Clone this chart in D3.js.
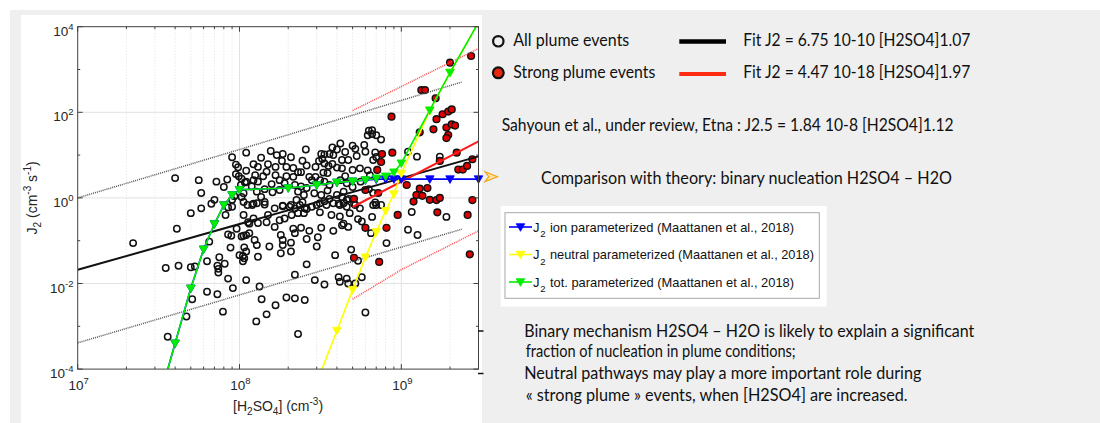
<!DOCTYPE html>
<html>
<head>
<meta charset="utf-8">
<script src="https://cdn.jsdelivr.net/npm/d3@7"></script>
<style>
  body { margin: 0; background: #fff; }
  svg { display: block; }
</style>
</head>
<body>
<svg id="chart" width="1100" height="423"></svg>
<script>
// ---------- data ----------
// [H2SO4] (cm-3), J2 (cm-3 s-1) for every plume event
const plumeEvents = [
  [2.2e7,0.088],[4.0e7,2.9],[5.6e7,2.6],[5.8e7,1.3],[7.2e7,2.4],[8.0e7,1.8],[8.4e7,2.7],[9.0e7,8.9],
  [9.5e7,6.0],[9.8e7,5.2],[9.5e7,3.6],[9.9e7,3.2],[1.1e8,11.4],[1.1e8,4.3],[7.0e7,0.9],[6.7e7,0.73],
  [5.8e7,0.57],[9.0e7,0.62],[1.03e8,1.05],[1.12e8,0.68],[5.0e7,0.44],[4.1e7,0.19],[6.5e7,0.095],[8.2e7,0.40],
  [8.5e7,0.14],[8.9e7,0.13],[9.6e7,0.19],[1.03e8,0.125],[1.1e8,0.135],[1.13e8,0.27],[8.8e7,0.069],[1.07e8,0.070],
  [1.1e8,0.056],[1.0e8,0.046],[1.05e8,0.044],[1.07e8,0.039],[6.3e7,0.033],[7.5e7,0.041],[8.1e7,0.029],[7.3e7,0.026],
  [7.4e7,0.022],[7.4e7,0.018],[5.0e7,0.024],[5.3e7,0.025],[4.2e7,0.026],[3.5e7,0.023],[8.5e7,0.013],[1.1e8,0.012],
  [9.1e7,0.0078],[6.3e7,0.0064],[7.3e7,0.0056],[5.1e7,0.0043],[4.7e7,0.0017],[7.9e7,0.0022],[3.6e7,5.7e-4],
  [1.02e8,2.0],[9.0e7,0.9],[9.3e7,1.1],[1.06e8,0.8],[8.5e7,0.6],[1.08e8,2.3],
  [1.56e8,12.5],[1.36e8,8.7],[1.7e8,10.0],[1.85e8,10.6],[1.83e8,7.3],[2.08e8,8.9],[2.57e8,13.5],[2.45e8,7.4],
  [3.1e8,7.3],[3.2e8,10.6],[3.35e8,10.4],[3.6e8,10.6],[3.8e8,10.0],[3.75e8,15],[4.2e8,18.6],[4.0e8,13.5],
  [3.25e8,8.1],[3.35e8,6.4],[3.55e8,5.6],[3.75e8,6.2],[4.0e8,5.1],[4.3e8,4.9],[4.5e8,3.2],[3.5e8,3.8],[3.3e8,3.9],
  [1.22e8,6.1],[1.3e8,5.3],[1.5e8,6.1],[1.67e8,5.3],[1.95e8,5.3],[2.15e8,5.0],[2.3e8,4.0],[2.6e8,5.7],[2.95e8,5.3],
  [1.25e8,3.4],[1.4e8,3.2],[1.47e8,4.1],[1.67e8,3.4],[1.95e8,3.2],[2.15e8,3.1],[2.4e8,4.0],[2.7e8,3.1],[2.95e8,3.1],
  [3.15e8,2.6],[3.35e8,2.4],[3.6e8,2.0],[4.2e8,2.6],
  [1.03e8,2.8],[1.1e8,2.4],[1.22e8,2.6],[1.3e8,2.4],[1.58e8,2.1],[1.77e8,2.6],[1.9e8,2.2],[2.2e8,2.0],[2.4e8,1.85],
  [2.6e8,1.7],[2.8e8,2.6],[1.06e8,1.28],[1.19e8,1.85],[1.28e8,1.4],[1.43e8,1.6],[1.6e8,1.35],[1.77e8,1.53],
  [2.3e8,1.4],[2.5e8,1.17],[2.9e8,1.28],[3.2e8,1.17],[3.5e8,1.48],[4.0e8,1.17],[4.4e8,1.4],
  [1.22e8,0.73],[1.36e8,1.05],[1.43e8,0.70],[1.85e8,0.66],[2.08e8,0.68],[2.25e8,0.89],[2.45e8,0.79],[3.0e8,0.68],
  [3.35e8,0.84],[3.6e8,0.95],[4.1e8,0.73],[4.6e8,0.89],
  [5.0e8,16.5],[5.2e8,14],[6.0e8,12],[6.9e8,11.5],[5.3e8,9.5],[7.0e8,9.0],[5.9e8,17.2],
  [6.3e8,37],[6.6e8,38],[6.2e8,29],[6.6e8,31],[7.0e8,29],[7.5e8,23],
  [4.5e8,11.8],[4.3e8,7.7],[4.7e8,7.7],[6.7e8,7.7],[5.0e8,4.5],[5.55e8,4.9],[6.2e8,4.4],[6.4e8,3.4],
  [1.1e9,12.0],[1.25e9,9.2],[1.73e9,9.2],
  [4.6e8,2.2],[5.0e8,1.8],[5.6e8,2.4],[6.3e8,1.6],[6.7e8,1.3],[4.3e8,1.05],[4.75e8,0.95],
  [1.2e8,0.68],[1.28e8,0.75],[1.43e8,0.8],[1.65e8,0.57],[1.85e8,0.64],[2.04e8,0.62],[2.2e8,0.57],[2.36e8,0.68],
  [2.53e8,0.57],[2.8e8,0.62],[3.14e8,0.75],[3.45e8,0.68],[3.8e8,0.75],[4.17e8,0.68],[4.6e8,0.62],
  [1.06e8,0.40],[1.15e8,0.25],[1.22e8,0.33],[1.3e8,0.26],[1.47e8,0.27],[1.5e8,0.40],[1.65e8,0.21],[1.77e8,0.30],
  [1.9e8,0.33],[2.1e8,0.40],[2.3e8,0.44],[2.5e8,0.44],[2.6e8,0.55],[3.14e8,0.46],[3.7e8,0.40],[4.17e8,0.37],
  [4.3e8,0.23],[4.7e8,0.21],
  [1.06e8,0.13],[1.15e8,0.15],[1.24e8,0.104],[1.28e8,0.079],[1.05e8,0.033],[1.53e8,0.073],[1.8e8,0.136],
  [1.85e8,0.104],[1.85e8,0.079],[2.08e8,0.09],[2.15e8,0.19],[2.2e8,0.15],[2.4e8,0.2],[2.6e8,0.11],[2.7e8,0.17],
  [3.0e8,0.073],[3.2e8,0.2],[3.05e8,0.12],[3.8e8,0.17],[1.8e8,0.051],[2.08e8,0.056],[1.3e8,0.042],[2.6e8,0.028],
  [3.9e8,0.046],[1.33e8,0.0085],[2.2e8,0.016],[2.92e8,0.012],[3.35e8,0.0095],[4.1e8,0.014],[4.17e8,0.011],
  [4.6e8,0.013],[4.7e8,0.010],[5.2e8,0.010],
  [1.37e8,0.0043],[1.47e8,0.0019],[1.27e8,0.0013],[1.67e8,0.0031],[1.95e8,0.0047],[2.2e8,0.0045],[2.53e8,0.0041],
  [2.3e8,6.6e-4],[4.9e8,0.062],[5.7e8,0.014],[6.0e8,0.0021],[5.4e8,0.034],
  [8.1e8,0.088],[1.1e9,0.18],[1.26e9,0.136],[1.9e9,0.36],[1.16e9,0.47],[6.5e8,0.15],
  [4.4e8,0.75],[5.1e8,0.73],[5.2e8,0.68],[5.55e8,0.57],[4.8e8,0.44],[5.4e8,0.32],[5.7e8,0.28],[6.6e8,0.36],
  [4.4e8,0.25],[6.7e8,0.68],[7.0e8,0.68],[7.5e8,0.68],[6.9e8,0.78]
];

// strong plume events
const strongEvents = [
  [6.0e8,0.2],[8.1e8,0.2],[7.3e8,0.032],[5.1e8,0.04],[1.67e9,0.46],[2.57e9,0.40],[2.65e9,0.048],[9.5e8,0.40],
  [1.19e9,0.82],[1.5e9,0.9],[1.65e9,0.89],[5.1e8,0.95],[6.0e8,1.53],[7.2e8,1.3],[1.08e9,2.0],[1.24e9,1.17],
  [1.35e9,1.12],[1.73e9,1.0],[1.45e9,1.7],[1.3e9,1.65],[2.75e9,0.89],
  [2.0e9,1440],[2.7e9,2070],[1.33e9,330],[1.4e9,330],[1.63e9,213],[8.7e8,79],[1.8e9,90],[1.95e9,104],
  [2.05e9,117],[1.65e9,69],[1.9e9,44],[2.05e9,52],[2.15e9,49],[1.95e9,29.5],[1.9e9,25],[1.3e9,34],
  [8.8e8,11.4],[7.6e8,10.6],[7.5e8,6.9],[7.1e8,4.5],[2.2e9,11.4],[2.75e9,8.0],[2.25e9,4.6],[2.4e9,4.6],
  [2.55e9,5.6],[1.73e9,7.3],[1.58e9,40]
];

// power-law fits J2 = a [H2SO4]^b
const fitAll = { a: 6.75e-10, b: 1.07, range: [1e7, 3e9] };
const fitStrong = { a: 4.47e-18, b: 1.97, range: [5e8, 3e9] };

// prediction bounds of the fits
const boundsAllX = [1e7, 1e8, 2.37e9];
const boundsAllUpper = [1.0, 13.5, 510];
const boundsAllLower = [4.1e-4, 0.0054, 0.186];
const boundsStrongX = [5e8, 1e9, 3e9];
const boundsStrongUpper = [110, 400, 3100];
const boundsStrongLower = [0.0043, 0.021, 0.17];

// Maattanen et al. (2018) parameterization
const paramH2SO4 = [3e7,4e7,5e7,6e7,7e7,8e7,9e7,1e8,2e8,3e8,4e8,5e8,6e8,7e8,8e8,9e8,1e9,1.5e9,2e9,3e9];
const jIon     = [8.7e-6,4.0e-4,7.7e-3,0.063,0.245,0.68,1.17,1.55,1.7,2.0,2.3,2.45,2.59,2.72,2.75,2.75,2.75,2.75,2.75,2.75];
const jNeutral = [null,null,null,null,null,null,null,null,null,4.8e-5,7.9e-4,7.1e-3,0.041,0.16,0.5,1.23,3.7,109,847,1.26e4];
const jTot     = [8.7e-6,4.0e-4,7.7e-3,0.063,0.245,0.68,1.17,1.55,1.7,2.0,2.3,2.45,2.63,2.88,3.2,3.98,6.46,112,850,1.26e4];

const xTickLabels = [[1e7,"7"],[1e8,"8"],[1e9,"9"]];
const yTickLabels = [[1e4,"4"],[1e2,"2"],[1e0,"0"],[1e-2,"-2"],[1e-4,"-4"]];

// ---------- layout ----------
const svg = d3.select("#chart");
const axisFont = "'Liberation Sans', Arial, sans-serif";
const slideFont = "Lato, 'Open Sans', sans-serif";

svg.append("rect").attr("width", 1100).attr("height", 423).attr("fill", "#ffffff");
svg.append("rect").attr("x", 10).attr("y", 10).attr("width", 1090).attr("height", 413).attr("fill", "#efefef");
svg.append("rect").attr("x", 21).attr("y", 15).attr("width", 461).attr("height", 408).attr("fill", "#ffffff");

const x = d3.scaleLog().domain([1e7, 3e9]).range([77.7, 478.5]);
const y = d3.scaleLog().domain([1e-4, 1e4]).range([369.1, 26.7]);
const [x0, x1] = x.range();
const [yB, yT] = y.range();

svg.append("clipPath").attr("id", "plotClip")
  .append("rect").attr("x", x0).attr("y", yT).attr("width", x1 - x0).attr("height", yB - yT);

const plot = svg.append("g");

// grid
const xAll = x.ticks();
const isDecade = v => Math.abs(Math.log10(v) - Math.round(Math.log10(v))) < 1e-9;
plot.append("g").selectAll("line").data(xAll.filter(v => !isDecade(v)))
  .join("line")
  .attr("x1", d => x(d)).attr("x2", d => x(d)).attr("y1", yT).attr("y2", yB)
  .attr("stroke", "#d9d9d9").attr("stroke-width", 0.8).attr("stroke-dasharray", "1,2");
plot.append("g").selectAll("line").data([1e8, 1e9])
  .join("line")
  .attr("x1", d => x(d)).attr("x2", d => x(d)).attr("y1", yT).attr("y2", yB)
  .attr("stroke", "#e2e2e2").attr("stroke-width", 1);
plot.append("g").selectAll("line").data([1e2, 1e0, 1e-2])
  .join("line")
  .attr("x1", x0).attr("x2", x1).attr("y1", d => y(d)).attr("y2", d => y(d))
  .attr("stroke", "#e2e2e2").attr("stroke-width", 1);

// scatter: all plume events
plot.append("g").selectAll("circle").data(plumeEvents)
  .join("circle")
  .attr("cx", d => x(d[0])).attr("cy", d => y(d[1])).attr("r", 3.2)
  .attr("fill", "none").attr("stroke", "#111").attr("stroke-width", 1.5);

// scatter: strong plume events
plot.append("g").selectAll("circle").data(strongEvents)
  .join("circle")
  .attr("cx", d => x(d[0])).attr("cy", d => y(d[1])).attr("r", 3.4)
  .attr("fill", "#e00000").attr("stroke", "#111").attr("stroke-width", 1.4);

const clipped = plot.append("g").attr("clip-path", "url(#plotClip)");
const line = d3.line().x(d => x(d[0])).y(d => y(d[1]));

// prediction bounds (dotted)
const zip = (xs, ys) => xs.map((v, i) => [v, ys[i]]);
[[boundsAllX, boundsAllUpper, "#555"], [boundsAllX, boundsAllLower, "#555"],
 [boundsStrongX, boundsStrongUpper, "#ff4a4a"], [boundsStrongX, boundsStrongLower, "#ff4a4a"]]
  .forEach(([xs, ys, c]) => {
    clipped.append("path").attr("d", line(zip(xs, ys)))
      .attr("fill", "none").attr("stroke", c).attr("stroke-width", 1.5).attr("stroke-dasharray", "1,1");
  });

// fit lines
[[fitAll, "#111"], [fitStrong, "#ff1a1a"]].forEach(([f, c]) => {
  const pts = f.range.map(v => [v, f.a * Math.pow(v, f.b)]);
  clipped.append("path").attr("d", line(pts))
    .attr("fill", "none").attr("stroke", c).attr("stroke-width", 2);
});

// parameterized curves with downward triangle markers
const tri = "M-4.3,-3.3L4.3,-3.3L0,4.3Z";
const curves = [[jIon, "#0000ff"], [jNeutral, "#ffff00"], [jTot, "#00ee00"]];
curves.forEach(([vals, c]) => {
  const pts = zip(paramH2SO4, vals).filter(d => d[1] != null);
  clipped.append("path").attr("d", line(pts))
    .attr("fill", "none").attr("stroke", c).attr("stroke-width", 1.6);
  const [ylo, yhi] = y.domain();
  plot.append("g").selectAll("path")
    .data(pts.filter(d => d[1] >= ylo && d[1] <= yhi))
    .join("path")
    .attr("transform", d => `translate(${x(d[0])},${y(d[1])})`)
    .attr("d", tri).attr("fill", c).attr("stroke", c).attr("stroke-width", 0.8);
});

// axes box and ticks (inward)
const axC = "#404040";
plot.append("rect").attr("x", x0).attr("y", yT).attr("width", x1 - x0).attr("height", yB - yT)
  .attr("fill", "none").attr("stroke", axC).attr("stroke-width", 1);

const ticks = plot.append("g");
xAll.forEach(v => {
  const L = isDecade(v) ? 5 : 2.5;
  ticks.append("line").attr("x1", x(v)).attr("x2", x(v)).attr("y1", yB).attr("y2", yB - L).attr("stroke", axC);
  ticks.append("line").attr("x1", x(v)).attr("x2", x(v)).attr("y1", yT).attr("y2", yT + L).attr("stroke", axC);
});
d3.range(-4, 5).forEach(p => {
  const L = p % 2 === 0 ? 5 : 2.5;
  const yy = y(Math.pow(10, p));
  ticks.append("line").attr("x1", x0).attr("x2", x0 + L).attr("y1", yy).attr("y2", yy).attr("stroke", axC);
  ticks.append("line").attr("x1", x1).attr("x2", x1 - L).attr("y1", yy).attr("y2", yy).attr("stroke", axC);
});

// tick labels
const lab = plot.append("g").attr("font-family", axisFont).attr("fill", "#262626");
xTickLabels.forEach(([v, e]) => {
  const t = lab.append("text").attr("x", x(v) + 1).attr("y", 390).attr("text-anchor", "middle").attr("font-size", 13.5);
  t.append("tspan").text("10");
  t.append("tspan").attr("dy", -6).attr("font-size", 9.5).text(e);
});
yTickLabels.forEach(([v, e]) => {
  const t = lab.append("text").attr("x", 73.5).attr("y", y(v) + 9).attr("text-anchor", "end").attr("font-size", 13.5);
  t.append("tspan").text("10");
  t.append("tspan").attr("dy", -6).attr("font-size", 9.5).text(e);
});

// axis titles
const xt = lab.append("text").attr("x", (x0 + x1) / 2).attr("y", 411).attr("text-anchor", "middle").attr("font-size", 14);
xt.append("tspan").text("[H");
xt.append("tspan").attr("dy", 4).attr("font-size", 10).text("2");
xt.append("tspan").attr("dy", -4).text("SO");
xt.append("tspan").attr("dy", 4).attr("font-size", 10).text("4");
xt.append("tspan").attr("dy", -4).text("] (cm");
xt.append("tspan").attr("dy", -6).attr("font-size", 10).text("-3");
xt.append("tspan").attr("dy", 6).text(")");

const yt = lab.append("text").attr("transform", `translate(37,${(yT + yB) / 2}) rotate(-90)`)
  .attr("text-anchor", "middle").attr("font-size", 14);
yt.append("tspan").text("J");
yt.append("tspan").attr("dy", 4).attr("font-size", 10).text("2");
yt.append("tspan").attr("dy", -4).text(" (cm");
yt.append("tspan").attr("dy", -6).attr("font-size", 10).text("-3");
yt.append("tspan").attr("dy", 6).text(" s");
yt.append("tspan").attr("dy", -6).attr("font-size", 10).text("-1");
yt.append("tspan").attr("dy", 6).text(")");

// ---------- right-hand side annotations ----------
const ann = svg.append("g").attr("font-family", slideFont).attr("fill", "#111").attr("font-size", 17.5);
const put = (txt, px, py, len) => ann.append("text").attr("x", px).attr("y", py)
  .attr("textLength", len).attr("lengthAdjust", "spacingAndGlyphs").text(txt);

ann.append("circle").attr("cx", 498.3).attr("cy", 41.3).attr("r", 5.2)
  .attr("fill", "none").attr("stroke", "#111").attr("stroke-width", 2.2);
ann.append("circle").attr("cx", 498.3).attr("cy", 72.8).attr("r", 5.4)
  .attr("fill", "#e8280e").attr("stroke", "#111").attr("stroke-width", 2.2);
put("All plume events", 513.3, 46.3, 116);
put("Strong plume events", 513.3, 78, 142);

ann.append("line").attr("x1", 679.3).attr("x2", 726).attr("y1", 41.5).attr("y2", 41.5)
  .attr("stroke", "#000").attr("stroke-width", 4.5);
ann.append("line").attr("x1", 679.3).attr("x2", 726).attr("y1", 74).attr("y2", 74)
  .attr("stroke", "#ff2a12").attr("stroke-width", 4);
put("Fit J2 = 6.75 10-10 [H2SO4]1.07", 743.3, 46.3, 227);
put("Fit J2 = 4.47 10-18 [H2SO4]1.97", 743.3, 78, 227);

put("Sahyoun et al., under review, Etna : J2.5 = 1.84 10-8 [H2SO4]1.12", 501.7, 131.3, 452);
put("Comparison with theory: binary nucleation H2SO4 \u2013 H2O", 541, 184.3, 411);

ann.append("path").attr("d", "M485,171.7L497.5,176.7L485,181.7L488.8,176.7Z")
  .attr("fill", "#fde3a7").attr("stroke", "#f2a30f").attr("stroke-width", 1.2);

put("Binary mechanism H2SO4 \u2013 H2O is likely to explain a significant", 524.3, 336.5, 450);
put("fraction of nucleation in plume conditions;", 525.7, 357, 270);
put("Neutral pathways may play a more important role during", 524.3, 379, 397);
put("\u00ab strong plume \u00bb events, when [H2SO4] are increased.", 525.7, 400.5, 382);

// bullet dashes
[331, 373.5].forEach(by => {
  ann.append("line").attr("x1", 478).attr("x2", 483.5).attr("y1", by).attr("y2", by)
    .attr("stroke", "#111").attr("stroke-width", 1.5);
});

// ---------- legend of the parameterized curves ----------
const lg = svg.append("g").attr("font-family", axisFont).attr("fill", "#111");
lg.append("rect").attr("x", 500.7).attr("y", 206).attr("width", 326).attr("height", 100.7).attr("fill", "#fff");
lg.append("rect").attr("x", 505).attr("y", 212.7).attr("width", 314.3).attr("height", 85.6)
  .attr("fill", "#fff").attr("stroke", "#a8a8a8").attr("stroke-width", 1);
const legendRows = [
  ["ion parameterized (Maattanen et al., 2018)", "#0000ff", 244],
  ["neutral parameterized (Maattanen et al., 2018)", "#ffff00", 264],
  ["tot. parameterized (Maattanen et al., 2018)", "#00ee00", 244]
];
legendRows.forEach(([txt, c, len], i) => {
  const ly = 227 + i * 27.5;
  lg.append("line").attr("x1", 509).attr("x2", 532).attr("y1", ly).attr("y2", ly)
    .attr("stroke", c).attr("stroke-width", 1.6);
  lg.append("path").attr("transform", `translate(520.5,${ly})`).attr("d", tri)
    .attr("fill", c).attr("stroke", c).attr("stroke-width", 0.8);
  lg.append("text").attr("x", 533).attr("y", ly + 4.5).attr("font-size", 13).text("J");
  lg.append("text").attr("x", 540.3).attr("y", ly + 10).attr("font-size", 9.5).text("2");
  lg.append("text").attr("x", 550).attr("y", ly + 4.5).attr("font-size", 13)
    .attr("textLength", len).attr("lengthAdjust", "spacingAndGlyphs").text(txt);
});
</script>
</body>
</html>
